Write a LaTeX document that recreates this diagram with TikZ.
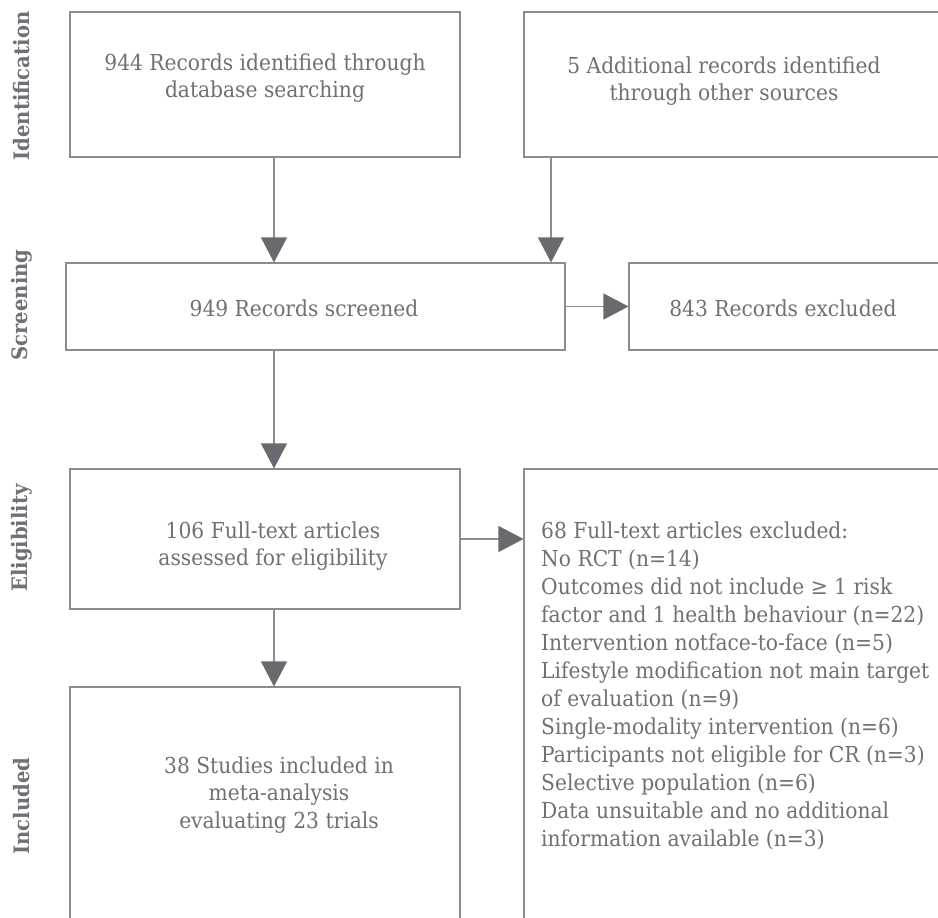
\documentclass[tikz,border=0pt]{standalone}
\usepackage{fontspec}
\setmainfont{DejaVu Serif}[FakeStretch=0.92]
\usetikzlibrary{arrows.meta}
\definecolor{txt}{RGB}{112,112,118}
\definecolor{frame}{RGB}{140,140,140}
\definecolor{head}{RGB}{105,105,112}
\begin{document}
\begin{tikzpicture}[x=1pt,y=-1pt,
  box/.style={draw=frame,line width=1.1pt,rectangle,inner sep=0pt},
  arr/.style={draw=frame,line width=1.1pt,-{Triangle[length=25pt,width=26pt,fill=head,color=head]}},
  lbl/.style={text=txt,font=\fontsize{22}{27.5}\selectfont,align=center,inner sep=0pt},
  lst/.style={text=txt,font=\fontsize{22}{28}\selectfont,align=left,inner sep=0pt},
  side/.style={text=txt,font=\fontsize{21.3}{26}\selectfont\bfseries,rotate=90,inner sep=0pt}]
\useasboundingbox (0,0) rectangle (938,918);
\clip (0,0) rectangle (938,918);
\fill[white] (0,0) rectangle (938,918);
% boxes
\node[box,minimum width=390pt,minimum height=145pt] (id1) at (265,84.5) {};
\node[box,minimum width=476pt,minimum height=145pt] (id2) at (762,84.5) {};
\node[box,minimum width=499pt,minimum height=87pt] (scr) at (315.5,306.5) {};
\node[box,minimum width=371pt,minimum height=87pt] (exc) at (814.5,306.5) {};
\node[box,minimum width=390pt,minimum height=140pt] (elig) at (265,539) {};
\node[box,minimum width=476pt,minimum height=531pt] (exc2) at (762,734.5) {};
\node[box,minimum width=390pt,minimum height=313pt] (inc) at (265,843.5) {};
% texts
\node[lbl] (t1) at (265,78) {944 Records identified through\\database searching};
\node[lbl] (t2) at (724,81) {5 Additional records identified\\through other sources};
\node[lbl] (t3) at (304,308) {949 Records screened};
\node[lbl] (t4) at (783,308) {843 Records excluded};
\node[lbl] (t5) at (273,546) {106 Full-text articles\\assessed for eligibility};
\node[lbl] (t6) at (279,795) {38 Studies included in\\meta-analysis\\evaluating 23 trials};
\node[lst,anchor=north west] (t7) at (541,522) {68 Full-text articles excluded:\\
No RCT (n=14)\\
Outcomes did not include ≥ 1 risk\\
factor and 1 health behaviour (n=22)\\
Intervention notface-to-face (n=5)\\
Lifestyle modification not main target\\
of evaluation (n=9)\\
Single-modality intervention (n=6)\\
Participants not eligible for CR (n=3)\\
Selective population (n=6)\\
Data unsuitable and no additional\\
information available (n=3)};
% side labels
\node[side] (s1) at (22,86) {Identification};
\node[side] (s2) at (22,305) {Screening};
\node[side] (s3) at (22,538) {Eligibility};
\node[side] (s4) at (22,806) {Included};
% connectors
\coordinate (colA) at (274,0);
\coordinate (colB) at (551,0);
\draw[arr] (id1.south -| colA) -- (scr.north -| colA);
\draw[arr] (id2.south -| colB) -- (scr.north -| colB);
\draw[arr] (scr.east) -- (exc.west);
\draw[arr] (scr.south -| colA) -- (elig.north -| colA);
\draw[arr] (elig.east) -- (exc2.west |- elig.east);
\draw[arr] (elig.south -| colA) -- (inc.north -| colA);
\end{tikzpicture}
\end{document}
